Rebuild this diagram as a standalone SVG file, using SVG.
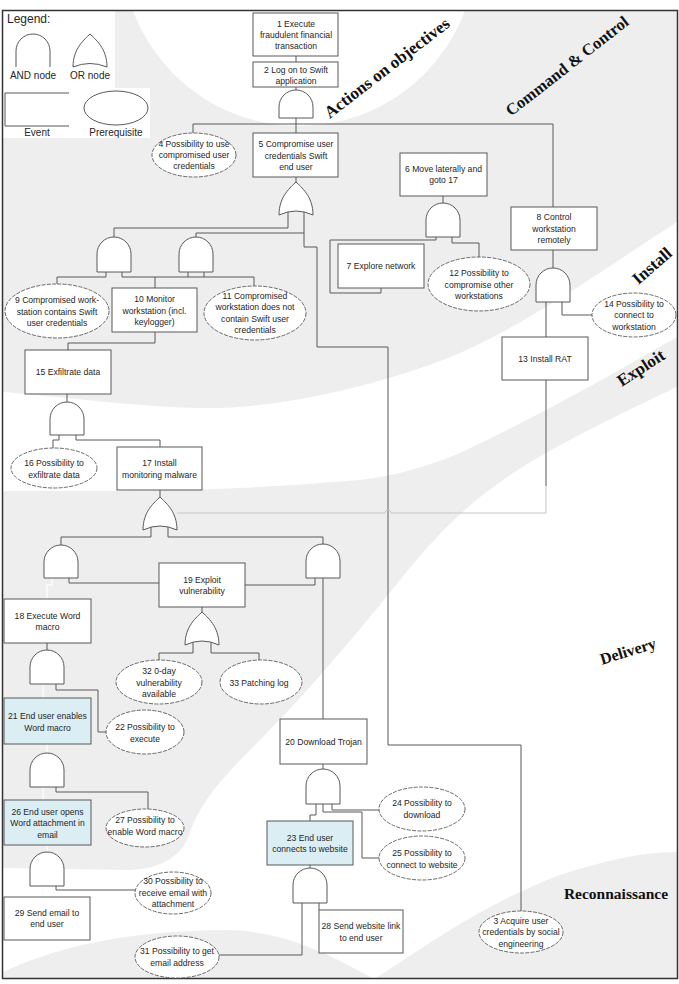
<svg xmlns="http://www.w3.org/2000/svg" width="679" height="984" viewBox="0 0 679 984">
<defs>
<style>
.bg{fill:#eeeeee}
.clear{fill:#ffffff}
.box{fill:#ffffff;stroke:#595959;stroke-width:1}
.blue{fill:#dbeef4}
.pre{fill:#ffffff;stroke:#595959;stroke-width:0.9;stroke-dasharray:4 1.3}
.gate{fill:#ffffff;stroke:#595959;stroke-width:1}
.w{fill:none;stroke:#595959;stroke-width:1}
.lt{stroke:#c6c6c6}
.pl{stroke:#fbfbfb;stroke-width:1.6}
.t{font-family:"Liberation Sans",Arial,sans-serif;font-size:8.6px;fill:#262626;text-anchor:middle;dominant-baseline:central}
.ph{font-family:"Liberation Serif","Times New Roman",serif;font-weight:bold;fill:#111111;text-anchor:middle;dominant-baseline:central}
.lg{font-family:"Liberation Sans",Arial,sans-serif;font-size:10px;fill:#262626;text-anchor:middle}
</style>
<clipPath id="pane"><rect x="3" y="11" width="674" height="967"/></clipPath>
</defs>
<rect x="0" y="0" width="679" height="984" fill="#ffffff"/>

<!-- kill-chain phase bands -->
<g id="bands" clip-path="url(#pane)">
<rect class="bg" x="3" y="11" width="674" height="967"/>
<circle class="clear" cx="299" cy="-51" r="177"/>
<path class="clear" d="M3,11 H115 V88 H150 V138 H3 Z"/>
<path class="clear" d="M3,392 C80,398 170,412 240,407 C320,400 400,378 460,353 C530,322 600,272 677,222 L677,337 C600,382 520,425 460,453 C420,470 380,479 347,481 C280,486 220,492 3,491 Z"/>
<path class="clear" d="M677,387 C620,414 545,450 503,480 C470,503 440,530 400,580 C340,655 290,710 260,740 C225,775 200,800 188,838 C178,862 150,870 127,870 L3,868 L3,972 C50,950 120,930 230,930 C290,932 340,960 372,978 L376,978 C420,950 480,905 560,875 C600,862 640,852 677,852 Z"/>
</g>
<rect x="2.5" y="10.5" width="675" height="968" fill="none" stroke="#333333" stroke-width="1.5"/>

<!-- phase names -->
<g id="phases">
<text class="ph" font-size="17" transform="translate(387,68) rotate(-37.5)">Actions on objectives</text>
<text class="ph" font-size="16.5" transform="translate(567,66) rotate(-38)">Command &amp; Control</text>
<text class="ph" font-size="17" transform="translate(652,266) rotate(-41)">Install</text>
<text class="ph" font-size="17" transform="translate(641,368) rotate(-33)">Exploit</text>
<text class="ph" font-size="16" transform="translate(628,651) rotate(-17)">Delivery</text>
<text class="ph" font-size="15.5" transform="translate(616,893)">Reconnaissance</text>
</g>

<!-- legend -->
<g id="legend">
<text x="7" y="23" font-family="Liberation Sans,Arial,sans-serif" font-size="12" fill="#262626">Legend:</text>
<path class="w" d="M16,67 V51 A17,17 0 0 1 50,51 V67"/>
<path class="w" d="M90,34 C95,39 107,48 107,67 Q90,60 73,67 C73,48 85,39 90,34 Z"/>
<text class="lg" x="33" y="79" font-size="9">AND node</text>
<text class="lg" x="90" y="79" font-size="9">OR node</text>
<path class="w" d="M69,93 H5 V126 H69"/>
<ellipse class="w" cx="116" cy="108" rx="32" ry="17"/>
<text class="lg" x="37" y="136">Event</text>
<text class="lg" x="116" y="136">Prerequisite</text>
</g>

<!-- connectors -->
<g id="connectors" class="w">
<path class="w" d="M296,56V62"/>
<path class="w" d="M296,87V90"/>
<path class="w" d="M296,118V133"/>
<path class="w" d="M193,124H553"/>
<path class="w" d="M193,124V133"/>
<path class="w" d="M553,124V207"/>
<path class="w" d="M296,177V182"/>
<path class="w" d="M288,212V228H114V237"/>
<path class="w" d="M304,212V247H317V347H388V745H521V911"/>
<path class="w" d="M304,233H196V237"/>
<path class="w" d="M443,196V203"/>
<path class="w" d="M436,237V240H330V293H381V288"/>
<path class="w" d="M452,237V243H479V257"/>
<path class="w" d="M553,250V268"/>
<path class="w" d="M546,302V337"/>
<path class="w" d="M562,302V315H592"/>
<path class="w" d="M546,380V486"/>
<path class="w lt" d="M546,486V513H391 A3,3 0 0 0 385,513 H177"/>
<path class="w" d="M106,272V277H57V284"/>
<path class="w" d="M122,272V277H254V286"/>
<path class="w" d="M155,277V288"/>
<path class="w" d="M188,272V277"/>
<path class="w" d="M204,272V277"/>
<path class="w" d="M155,332V343H68V350"/>
<path class="w" d="M67,394V402"/>
<path class="w" d="M59,435V440H53V448"/>
<path class="w" d="M76,435V440H160V447"/>
<path class="w" d="M160,490V497"/>
<path class="w" d="M151,527V537H61V545"/>
<path class="w" d="M168,527V537H323V544"/>
<path class="w pl" d="M52,578V585H47V599"/>
<path class="w" d="M69,578V583H159"/>
<path class="w" d="M315,578V585H245"/>
<path class="w" d="M323,578V719"/>
<path class="w" d="M202,607V612"/>
<path class="w" d="M193,642V653H159V660"/>
<path class="w" d="M211,642V653H259V660"/>
<path class="w" d="M47,643V650"/>
<path class="w pl" d="M43,684V698"/>
<path class="w" d="M56,684V690H98V732H107"/>
<path class="w pl" d="M47,744V753"/>
<path class="w pl" d="M43,787V800"/>
<path class="w" d="M56,787V792H148V809"/>
<path class="w pl" d="M47,845V852"/>
<path class="w pl" d="M43,886V897"/>
<path class="w" d="M56,886V890H135"/>
<path class="w" d="M323,764V769"/>
<path class="w" d="M316,804V815H310V821"/>
<path class="w" d="M323,804V812H362V858H379"/>
<path class="w" d="M332,804V810H379"/>
<path class="w" d="M310,865V868"/>
<path class="w" d="M302,903V955H219"/>
<path class="w" d="M319,903V910"/>
</g>

<!-- gates -->
<g id="gate-and-2"><path class="gate" d="M279,118V107A17,17 0 0 1 313,107V118Z"/></g>
<g id="gate-or-5"><path class="gate" d="M296,182C301,187 313,196 313,215Q296,207 279,215C279,196 291,187 296,182Z"/></g>
<g id="gate-and-9-10"><path class="gate" d="M97,272V254A17,17 0 0 1 131,254V272Z"/></g>
<g id="gate-and-10-11"><path class="gate" d="M179,272V254A17,17 0 0 1 213,254V272Z"/></g>
<g id="gate-and-6"><path class="gate" d="M426,237V220A17,17 0 0 1 460,220V237Z"/></g>
<g id="gate-and-8"><path class="gate" d="M536,302V285A17,17 0 0 1 570,285V302Z"/></g>
<g id="gate-and-15"><path class="gate" d="M50,435V419A17,17 0 0 1 84,419V435Z"/></g>
<g id="gate-or-17"><path class="gate" d="M160,497C165,502 177,511 177,530Q160,522 143,530C143,511 155,502 160,497Z"/></g>
<g id="gate-and-18-19"><path class="gate" d="M44,578V562A17,17 0 0 1 78,562V578Z"/></g>
<g id="gate-and-19-20"><path class="gate" d="M306,578V561A17,17 0 0 1 340,561V578Z"/></g>
<g id="gate-or-19"><path class="gate" d="M202,612C207,617 219,626 219,645Q202,637 185,645C185,626 197,617 202,612Z"/></g>
<g id="gate-and-18"><path class="gate" d="M30,684V667A17,17 0 0 1 64,667V684Z"/></g>
<g id="gate-and-21"><path class="gate" d="M30,787V770A17,17 0 0 1 64,770V787Z"/></g>
<g id="gate-and-26"><path class="gate" d="M30,886V869A17,17 0 0 1 64,869V886Z"/></g>
<g id="gate-and-20"><path class="gate" d="M306,804V786A17,17 0 0 1 340,786V804Z"/></g>
<g id="gate-and-23"><path class="gate" d="M293,903V885A17,17 0 0 1 327,885V903Z"/></g>

<!-- events and prerequisites -->
<g id="n1"><rect class="box" x="253" y="13" width="85" height="43"/>
<text class="t" x="296" y="24">1 Execute</text><text class="t" x="296" y="35">fraudulent financial</text><text class="t" x="296" y="46">transaction</text></g>
<g id="n2"><rect class="box" x="253" y="62" width="85" height="25"/>
<text class="t" x="296" y="69.5">2 Log on to Swift</text><text class="t" x="296" y="80.5">application</text></g>
<g id="n4"><ellipse class="pre" cx="194" cy="155" rx="42" ry="22"/>
<text class="t" x="194" y="144">4 Possibility to use</text><text class="t" x="194" y="155">compromised user</text><text class="t" x="194" y="166">credentials</text></g>
<g id="n5"><rect class="box" x="253" y="133" width="85" height="44"/>
<text class="t" x="296" y="144">5 Compromise user</text><text class="t" x="296" y="155.5">credentials Swift</text><text class="t" x="296" y="167">end user</text></g>
<g id="n6"><rect class="box" x="400" y="153" width="87" height="43"/>
<text class="t" x="443.5" y="168.5">6 Move laterally and</text><text class="t" x="443.5" y="180">goto 17</text></g>
<g id="n7"><rect class="box" x="338" y="244" width="86" height="44"/>
<text class="t" x="381" y="266">7 Explore network</text></g>
<g id="n8"><rect class="box" x="511" y="207" width="86" height="43"/>
<text class="t" x="554" y="217">8 Control</text><text class="t" x="554" y="228.5">workstation</text><text class="t" x="554" y="240">remotely</text></g>
<g id="n9"><ellipse class="pre" cx="57" cy="311" rx="52" ry="27"/>
<text class="t" x="57" y="300">9 Compromised work-</text><text class="t" x="57" y="311.5">station contains Swift</text><text class="t" x="57" y="323">user credentials</text></g>
<g id="n10"><rect class="box" x="112" y="288" width="85" height="44"/>
<text class="t" x="154.5" y="299">10 Monitor</text><text class="t" x="154.5" y="310.5">workstation (incl.</text><text class="t" x="154.5" y="322">keylogger)</text></g>
<g id="n11"><ellipse class="pre" cx="255" cy="313" rx="51" ry="27"/>
<text class="t" x="255" y="295.5">11 Compromised</text><text class="t" x="255" y="307">workstation does not</text><text class="t" x="255" y="318.5">contain Swift user</text><text class="t" x="255" y="330">credentials</text></g>
<g id="n12"><ellipse class="pre" cx="479" cy="284" rx="51" ry="27"/>
<text class="t" x="479" y="273">12 Possibility to</text><text class="t" x="479" y="284.5">compromise other</text><text class="t" x="479" y="296">workstations</text></g>
<g id="n13"><rect class="box" x="502" y="337" width="86" height="43"/>
<text class="t" x="545" y="358.5">13 Install RAT</text></g>
<g id="n14"><ellipse class="pre" cx="634" cy="315" rx="42" ry="22"/>
<text class="t" x="634" y="303.5">14 Possibility to</text><text class="t" x="634" y="315">connect to</text><text class="t" x="634" y="326.5">workstation</text></g>
<g id="n15"><rect class="box" x="25" y="350" width="86" height="44"/>
<text class="t" x="68" y="372">15 Exfiltrate data</text></g>
<g id="n16"><ellipse class="pre" cx="54" cy="468" rx="43" ry="20"/>
<text class="t" x="54" y="463">16 Possibility to</text><text class="t" x="54" y="474.5">exfiltrate data</text></g>
<g id="n17"><rect class="box" x="117" y="447" width="85" height="43"/>
<text class="t" x="159.5" y="463">17 Install</text><text class="t" x="159.5" y="474.5">monitoring malware</text></g>
<g id="n18"><rect class="box" x="4" y="599" width="87" height="44"/>
<text class="t" x="47.5" y="615.5">18 Execute Word</text><text class="t" x="47.5" y="627">macro</text></g>
<g id="n19"><rect class="box" x="159" y="563" width="86" height="44"/>
<text class="t" x="202" y="579.5">19 Exploit</text><text class="t" x="202" y="591">vulnerability</text></g>
<g id="n32"><ellipse class="pre" cx="159" cy="682" rx="43" ry="22"/>
<text class="t" x="159" y="671">32 0-day</text><text class="t" x="159" y="682.5">vulnerability</text><text class="t" x="159" y="694">available</text></g>
<g id="n33"><ellipse class="pre" cx="261" cy="682" rx="41" ry="22"/>
<text class="t" x="259" y="682.5">33 Patching log</text></g>
<g id="n20"><rect class="box" x="280" y="719" width="87" height="45"/>
<text class="t" x="323.5" y="742">20 Download Trojan</text></g>
<g id="n21"><rect class="box blue" x="4" y="698" width="87" height="46"/>
<text class="t" x="47.5" y="716">21 End user enables</text><text class="t" x="47.5" y="727.5">Word macro</text></g>
<g id="n22"><ellipse class="pre" cx="145" cy="732" rx="39" ry="22"/>
<text class="t" x="145" y="727">22 Possibility to</text><text class="t" x="145" y="738.5">execute</text></g>
<g id="n26"><rect class="box blue" x="4" y="800" width="87" height="45"/>
<text class="t" x="47.5" y="811.5">26 End user opens</text><text class="t" x="47.5" y="823">Word attachment in</text><text class="t" x="47.5" y="834.5">email</text></g>
<g id="n27"><ellipse class="pre" cx="145" cy="828" rx="39" ry="19"/>
<text class="t" x="145" y="820">27 Possibility to</text><text class="t" x="145" y="831.5">enable Word macro</text></g>
<g id="n30"><ellipse class="pre" cx="173" cy="893" rx="38" ry="21"/>
<text class="t" x="173" y="881">30 Possibility to</text><text class="t" x="173" y="892.5">receive email with</text><text class="t" x="173" y="904">attachment</text></g>
<g id="n29"><rect class="box" x="4" y="897" width="86" height="43"/>
<text class="t" x="47" y="912.5">29 Send email to</text><text class="t" x="47" y="924">end user</text></g>
<g id="n31"><ellipse class="pre blue" cx="177" cy="957" rx="42" ry="21"/>
<text class="t" x="177" y="951">31 Possibility to get</text><text class="t" x="177" y="962.5">email address</text></g>
<g id="n23"><rect class="box blue" x="267" y="821" width="86" height="44"/>
<text class="t" x="310" y="837.5">23 End user</text><text class="t" x="310" y="849">connects to website</text></g>
<g id="n24"><ellipse class="pre" cx="422" cy="809" rx="43" ry="22"/>
<text class="t" x="422" y="803">24 Possibility to</text><text class="t" x="422" y="815">download</text></g>
<g id="n25"><ellipse class="pre" cx="422" cy="858" rx="43" ry="22"/>
<text class="t" x="422" y="853">25 Possibility to</text><text class="t" x="422" y="864.5">connect to website</text></g>
<g id="n28"><rect class="box" x="319" y="910" width="84" height="43"/>
<text class="t" x="361" y="926">28 Send website link</text><text class="t" x="361" y="937.5">to end user</text></g>
<g id="n3"><ellipse class="pre blue" cx="521" cy="932" rx="42" ry="21"/>
<text class="t" x="521" y="920.5">3 Acquire user</text><text class="t" x="521" y="932">credentials by social</text><text class="t" x="521" y="943.5">engineering</text></g>
</svg>
